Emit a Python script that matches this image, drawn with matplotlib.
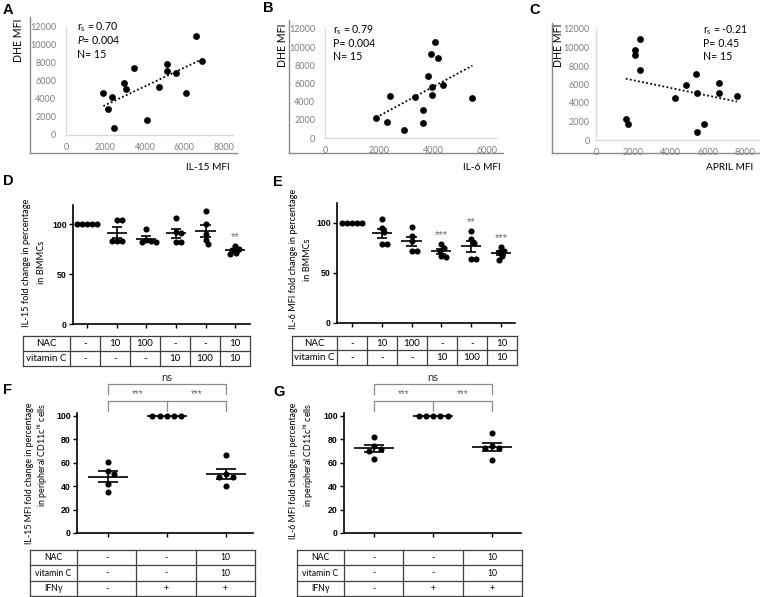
import numpy as np
import matplotlib
matplotlib.use("Agg")
import matplotlib.pyplot as plt

plt.rcParams['font.family'] = ['Lato', 'DejaVu Sans']
plt.rcParams['mathtext.fontset'] = 'custom'
plt.rcParams['mathtext.rm'] = 'Lato'
plt.rcParams['mathtext.it'] = 'Lato:italic'
plt.rcParams['mathtext.bf'] = 'Lato:bold'

# ---------------- data ----------------
# Panel A: IL-15 MFI vs DHE MFI
a_il15_mfi = [1890, 2140, 2350, 2430, 2950, 3040, 3460, 4080, 4710, 5130, 5130, 5570, 6090, 6580, 6890]
a_dhe_mfi = [4660, 2860, 4150, 810, 5720, 5100, 7340, 1650, 5320, 7780, 7010, 6860, 4660, 10900, 8150]
a_stats = ["r$_\\mathregular{s}$ = 0.70", "$P$= 0.004", "N= 15"]
# Panel B: IL-6 MFI vs DHE MFI
b_il6_mfi = [1900, 2280, 2420, 2930, 3350, 3640, 3630, 3810, 3910, 3960, 3960, 4070, 4190, 4370, 5460]
b_dhe_mfi = [2200, 1720, 4590, 840, 4550, 3050, 1690, 6790, 9280, 5580, 4700, 10600, 8840, 5830, 4400]
b_stats = ["r$_\\mathregular{s}$ = 0.79", "P= 0.004", "N= 15"]
# Panel C: APRIL MFI vs DHE MFI
c_april_mfi = [1600, 1730, 2070, 2070, 2340, 2380, 4230, 4850, 5390, 5440, 5410, 5780, 6610, 6630, 7570]
c_dhe_mfi = [2270, 1730, 9680, 9210, 7550, 10970, 4580, 5960, 7150, 5050, 870, 1730, 6210, 5050, 4800]
c_stats = ["r$_\\mathregular{s}$ = -0.21", "P= 0.45", "N= 15"]

scatter_yticks = [0, 2000, 4000, 6000, 8000, 10000, 12000]
a_xticks = [0, 2000, 4000, 6000, 8000]
b_xticks = [0, 2000, 4000, 6000]
c_xticks = [0, 2000, 4000, 6000, 8000]

# Panel D: IL-15 fold change (%) in BMMCs
d_groups = [
    [100, 100, 100, 100, 100],
    [104, 104, 83, 83, 83],
    [95, 84, 83, 82, 82],
    [106, 92, 91, 82, 82],
    [113, 100, 90, 84, 80],
    [78, 75, 74, 71, 70],
]
d_sig = ["", "", "", "", "", "**"]
# Panel E: IL-6 MFI fold change (%) in BMMCs
e_groups = [
    [100, 100, 100, 100, 100],
    [104, 95, 91, 79, 79],
    [96, 87, 82, 72, 72],
    [79, 75, 72, 66, 67],
    [92, 84, 80, 64, 64],
    [76, 72, 71, 67, 63],
]
e_sig = ["", "", "", "***", "**", "***"]
de_nac = ["-", "10", "100", "-", "-", "10"]
de_vitc = ["-", "-", "-", "10", "100", "10"]

# Panel F / G: peripheral CD11c-hi cells
f_groups = [
    [61, 53, 50, 42, 35],
    [100, 100, 100, 100, 100],
    [67, 48, 48, 50, 40],
]
g_groups = [
    [82, 74, 72, 70, 63],
    [100, 100, 100, 100, 100],
    [85, 73, 73, 74, 62],
]
fg_nac = ["-", "-", "10"]
fg_vitc = ["-", "-", "10"]
fg_ifng = ["-", "+", "+"]
fg_brackets = ["ns", "***", "***"]

de_yticks = [0, 50, 100]
fg_yticks = [0, 20, 40, 60, 80, 100]

# ---------------- layout helpers ----------------
W, H = 760, 597
fig = plt.figure(figsize=(W / 100, H / 100), dpi=100)
fig.patch.set_facecolor('white')


def px_axes(x0, y0, x1, y1, **kw):
    return fig.add_axes([x0 / W, 1 - y1 / H, (x1 - x0) / W, (y1 - y0) / H], **kw)


def ftext(x, y, s, **kw):
    return fig.text(x / W, 1 - y / H, s, **kw)


GRAY_TXT = '#7f7f7f'
SIG_GRAY = '#6a6a6a'


def scatter_panel(outer, inner, xmax, xticks, x, y, stats, stats_xy, ypad=7):
    oax = px_axes(*outer)
    oax.set_facecolor('none')
    for s in ['top', 'right']:
        oax.spines[s].set_visible(False)
    for s in ['left', 'bottom']:
        oax.spines[s].set_color('#8a8a8a')
        oax.spines[s].set_linewidth(1.0)
    oax.set_xticks([])
    oax.set_yticks([])

    ax = px_axes(*inner)
    ax.set_facecolor('none')
    ax.set_xlim(0, xmax)
    ax.set_ylim(0, 12000)
    for s in ['top', 'right']:
        ax.spines[s].set_visible(False)
    for s in ['left', 'bottom']:
        ax.spines[s].set_color('#d9d9d9')
        ax.spines[s].set_linewidth(0.9)
    ax.set_xticks(xticks)
    ax.set_yticks(scatter_yticks)
    ax.set_xticklabels([str(v) for v in xticks])
    ax.set_yticklabels([str(v) for v in scatter_yticks])
    ax.tick_params(axis='x', length=0, labelsize=6.5, labelcolor=GRAY_TXT, pad=5.5)
    ax.tick_params(axis='y', length=0, labelsize=6.5, labelcolor=GRAY_TXT, pad=ypad)
    ax.plot(x, y, 'o', color='black', ms=4.9, mew=0, clip_on=False, zorder=3)
    k, b = np.polyfit(x, y, 1)
    xs = np.array([min(x), max(x)])
    ax.plot(xs, k * xs + b, color='black', lw=1.3, ls=(0, (1, 1.3)), zorder=2)
    sx, sy = stats_xy
    for i, s in enumerate(stats):
        ftext(sx, sy + i * 13.5, s, fontsize=7.6, ha='left', va='center', color='black')
    return ax


# Panel A
scatter_panel((30, 17, 237, 153), (66, 26, 233, 135), 8000 * (233 - 66) / (224 - 66), a_xticks,
              a_il15_mfi, a_dhe_mfi, a_stats, (77, 27))
# Panel B
scatter_panel((289, 20, 503, 153), (325, 29, 497, 138), 6000 * (497 - 325) / (487 - 325), b_xticks,
              b_il6_mfi, b_dhe_mfi, b_stats, (333, 30))
# Panel C
scatter_panel((552, 23, 762, 153), (596, 29, 760, 140), 8000 * (760 - 596) / (745 - 596), c_xticks,
              c_april_mfi, c_dhe_mfi, c_stats, (703, 30), ypad=4.5)

for (x, y) in [(18, 40), (282, 45), (558, 45)]:
    ftext(x, y, "DHE MFI", rotation=90, fontsize=7.6, ha='center', va='center')
ftext(230, 168, "IL-15 MFI", fontsize=7.3, ha='right', va='center')
ftext(501, 168, "IL-6 MFI", fontsize=7.3, ha='right', va='center')
ftext(753, 168, "APRIL MFI", fontsize=7.3, ha='right', va='center')

# panel letters
for (x, y, s) in [(8, 10, 'A'), (268, 8, 'B'), (535, 10, 'C'), (8, 181, 'D'),
                  (278, 182, 'E'), (8, 390, 'F'), (279, 392, 'G')]:
    ftext(x, y, s, fontsize=10.5, fontweight='bold', family='Liberation Sans', ha='center', va='center')


# ---------------- dot-plot helpers ----------------
def swarm_offsets(ax, vals, spacing):
    t = ax.transData
    ppu = t.transform((1, 0))[0] - t.transform((0, 0))[0]
    ys = np.array([t.transform((0, v))[1] for v in vals])
    order = np.argsort(-np.asarray(vals), kind='stable')
    cands = [0.0]
    for k in range(1, 400):
        cands += [k * 0.25, -k * 0.25]
    placed = []
    offs = np.zeros(len(vals))
    for i in order:
        for c in cands:
            if all((c - px) ** 2 + (ys[i] - py) ** 2 >= spacing ** 2 - 1e-6 for px, py in placed):
                offs[i] = c / ppu
                placed.append((c, ys[i]))
                break
    return offs


def dot_panel(box, xlim, ylim, yticks, groups, spacing, ms):
    ax = px_axes(*box)
    ax.set_facecolor('none')
    ax.set_xlim(*xlim)
    ax.set_ylim(*ylim)
    for s in ['top', 'right']:
        ax.spines[s].set_visible(False)
    for s in ['left', 'bottom']:
        ax.spines[s].set_linewidth(1.2)
    ax.set_xticks(range(len(groups)))
    ax.set_xticklabels([])
    ax.set_yticks(yticks)
    ax.set_yticklabels([str(v) for v in yticks])
    ax.tick_params(length=3, width=1.0, labelsize=6.3, pad=1.5)
    for lab in ax.get_yticklabels():
        lab.set_fontweight('bold')
        lab.set_family('Liberation Sans')
    for i, vals in enumerate(groups):
        v = np.asarray(vals, float)
        offs = swarm_offsets(ax, v, spacing)
        ax.plot(i + offs, v, 'o', color='black', ms=ms, mew=0, zorder=3, clip_on=False)
        m = v.mean()
        sem = v.std(ddof=1) / np.sqrt(len(v))
        ax.hlines(m, i - 0.34, i + 0.34, color='black', lw=1.2, zorder=2)
        if sem > 0:
            ax.vlines(i, m - sem, m + sem, color='black', lw=1.2, zorder=2)
            ax.hlines([m - sem, m + sem], i - 0.17, i + 0.17, color='black', lw=1.2, zorder=2)
    return ax


def draw_table(x0, xc, x1, ytop, ybot, labels, rows, fs):
    ncols = len(rows[0])
    tax = px_axes(x0, ytop, x1, ybot)
    colw = (x1 - xc) / ncols
    left = -0.5 - (xc - x0) / colw
    tax.set_xlim(left, ncols - 0.5)
    tax.set_ylim(len(rows), 0)
    tax.axis('off')
    lc = '#404040'
    for r in range(len(rows) + 1):
        tax.plot([left, ncols - 0.5], [r, r], color=lc, lw=0.9, clip_on=False)
    for xv in [left] + [c - 0.5 for c in range(ncols + 1)]:
        tax.plot([xv, xv], [0, len(rows)], color=lc, lw=0.9, clip_on=False)
    for r, (lab, vals) in enumerate(zip(labels, rows)):
        tax.text((left - 0.5) / 2, r + 0.5, lab, ha='center', va='center', fontsize=fs)
        for c, v in enumerate(vals):
            tax.text(c, r + 0.5, v, ha='center', va='center', fontsize=fs)
    return tax


def add_sig(ax, groups, sig):
    for i, (vals, s) in enumerate(zip(groups, sig)):
        if s:
            ax.text(i, max(vals) + 9, s, ha='center', va='center', fontsize=8,
                    family='Liberation Sans', color=SIG_GRAY, clip_on=False)


# Panel D
axd = dot_panel((73, 205, 250, 324), (-0.47, 5.5), (0, 119), de_yticks, d_groups, 4.8, 4.4)
add_sig(axd, d_groups, d_sig)
draw_table(23, 70, 250, 336, 366, ["NAC", "vitamin C"], [de_nac, de_vitc], 7.0)
ftext(27, 263, "IL-15 fold change in percentage", rotation=90, fontsize=6.7, ha='center', va='center')
ftext(42, 262, "in BMMCs", rotation=90, fontsize=6.7, ha='center', va='center')

# Panel E
axe = dot_panel((337, 203, 515, 323), (-0.5, 5.47), (0, 120), de_yticks, e_groups, 4.8, 4.4)
add_sig(axe, e_groups, e_sig)
draw_table(292, 337, 517, 336, 365, ["NAC", "vitamin C"], [de_nac, de_vitc], 7.0)
ftext(293, 259, "IL-6 MFI fold change in percentage", rotation=90, fontsize=6.6, ha='center', va='center')
ftext(308, 260, "in BMMCs", rotation=90, fontsize=6.6, ha='center', va='center')


def add_brackets(ax, labels):
    bc = '#8c8c8c'
    ax.plot([0, 0, 2, 2], [119, 127, 127, 119], color=bc, lw=0.9, clip_on=False)
    ax.plot([0, 0, 2, 2], [104, 113, 113, 104], color=bc, lw=0.9, clip_on=False)
    ax.plot([1, 1], [113, 104], color=bc, lw=0.9, clip_on=False)
    ax.text(1, 133, labels[0], ha='center', va='center', fontsize=8, color='#303030', clip_on=False)
    ax.text(0.5, 118.5, labels[1], ha='center', va='center', fontsize=7, family='Liberation Sans',
            color=SIG_GRAY, clip_on=False)
    ax.text(1.5, 118.5, labels[2], ha='center', va='center', fontsize=7, family='Liberation Sans',
            color=SIG_GRAY, clip_on=False)


# Panel F
axf = dot_panel((77, 413, 253, 533), (-0.525, 2.46), (0, 102.5), fg_yticks, f_groups, 7.2, 4.4)
add_brackets(axf, fg_brackets)
draw_table(30, 77, 255, 550, 596, ["NAC", "vitamin C", "IFNγ"], [fg_nac, fg_vitc, fg_ifng], 6.2)
ftext(29, 403, "IL-15 MFI fold change in percentage", rotation=90, fontsize=6.4, ha='center', va='top')
ftext(43, 403, "in peripheral CD11c$^{\\mathregular{hi}}$ cells", rotation=90, fontsize=6.4,
      ha='center', va='top')

# Panel G
axg = dot_panel((344, 413, 521, 533), (-0.51, 2.49), (0, 102.5), fg_yticks, g_groups, 7.2, 4.4)
add_brackets(axg, fg_brackets)
draw_table(297, 344, 522, 550, 596, ["NAC", "vitamin C", "IFNγ"], [fg_nac, fg_vitc, fg_ifng], 6.2)
ftext(294, 403, "IL-6 MFI fold change in percentage", rotation=90, fontsize=6.4, ha='center', va='top')
ftext(309, 403, "in peripheral CD11c$^{\\mathregular{hi}}$ cells", rotation=90, fontsize=6.4,
      ha='center', va='top')

fig.savefig("out.png", dpi=100, facecolor='white')
